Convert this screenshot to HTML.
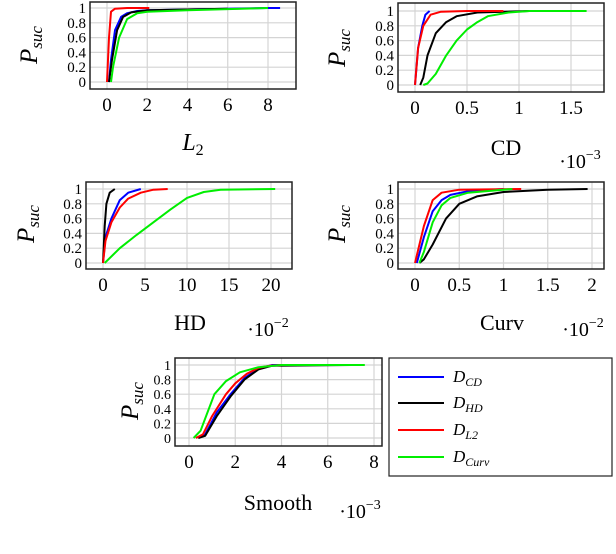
<!DOCTYPE html>
<html><head><meta charset="utf-8"><style>
body{margin:0;background:#fff}
svg{display:block}
text{font-family:"Liberation Serif",serif;fill:#000}
</style></head><body>
<svg id="s" width="616" height="554" viewBox="0 0 616 554"></svg>
<script>
const NS="http://www.w3.org/2000/svg";
const svg=document.getElementById('s');
const colors={cd:'#0000ff',hd:'#000000',l2:'#ff0000',curv:'#00ee00'};
const seriesOrder=['cd','hd','l2','curv'];
const yTicks=[0,0.2,0.4,0.6,0.8,1];
const yTickLabels=['0','0.2','0.4','0.6','0.8','1'];

// Chart L2
const l2Ticks=[0,2,4,6,8];
const l2_cd_x=[0.1,0.2,0.4,0.7,1,1.5,2,4,8,8.6];const l2_cd_y=[0,0.3,0.7,0.88,0.93,0.96,0.97,0.98,1,1];
const l2_hd_x=[0.1,0.25,0.5,0.8,1.2,2,4,6];const l2_hd_y=[0,0.3,0.7,0.88,0.94,0.97,0.98,0.99];
const l2_l2_x=[0,0.1,0.2,0.4,1,2.1];const l2_l2_y=[0,0.6,0.95,0.99,1,1];
const l2_curv_x=[0.2,0.3,0.6,1,1.5,2,4,8];const l2_curv_y=[0,0.2,0.6,0.85,0.93,0.95,0.97,1];
// Chart CD
const cdTicks=[0,0.5,1,1.5];
const cd_cd_x=[0,0.03,0.07,0.1,0.14];const cd_cd_y=[0,0.5,0.8,0.95,1];
const cd_hd_x=[0.05,0.08,0.12,0.2,0.3,0.4,0.6,1.1];const cd_hd_y=[0,0.1,0.4,0.7,0.85,0.93,0.98,1];
const cd_l2_x=[0,0.03,0.08,0.15,0.25,0.5,0.85];const cd_l2_y=[0,0.5,0.8,0.95,0.99,1,1];
const cd_curv_x=[0.08,0.12,0.2,0.3,0.4,0.5,0.6,0.7,0.9,1.1,1.65];const cd_curv_y=[0,0.02,0.15,0.4,0.6,0.75,0.85,0.93,0.98,1,1];
// Chart HD
const hdTicks=[0,5,10,15,20];
const hd_cd_x=[0,0.3,1,2,3,4.5];const hd_cd_y=[0,0.35,0.6,0.85,0.95,1];
const hd_hd_x=[0,0.2,0.4,0.8,1.4];const hd_hd_y=[0,0.5,0.8,0.95,1];
const hd_l2_x=[0,0.3,1,2,3,4.5,6,7.7];const hd_l2_y=[0,0.3,0.55,0.75,0.87,0.95,0.99,1];
const hd_curv_x=[0.2,2,4,6,8,10,12,14,20.5];const hd_curv_y=[0,0.2,0.38,0.55,0.72,0.88,0.96,0.99,1];
// Chart Curv
const cvTicks=[0,0.5,1,1.5,2];
const cv_cd_x=[0.02,0.1,0.2,0.3,0.4,0.6,1];const cv_cd_y=[0,0.35,0.7,0.85,0.92,0.97,1];
const cv_hd_x=[0.05,0.1,0.2,0.35,0.5,0.7,1,1.5,1.95];const cv_hd_y=[0,0.05,0.25,0.6,0.8,0.9,0.96,0.99,1];
const cv_l2_x=[0,0.1,0.2,0.3,0.5,1.2];const cv_l2_y=[0,0.5,0.85,0.95,0.99,1];
const cv_curv_x=[0.05,0.1,0.2,0.3,0.4,0.6,1.1];const cv_curv_y=[0,0.15,0.55,0.78,0.88,0.95,1];
// Chart Smooth
const smTicks=[0,2,4,6,8];
const sm_cd_x=[0.4,0.7,1.2,1.8,2.4,3,3.6,7];const sm_cd_y=[0,0.05,0.35,0.6,0.82,0.95,1,1];
const sm_hd_x=[0.4,0.7,1.2,1.8,2.4,3,3.6,7];const sm_hd_y=[0,0.03,0.3,0.57,0.8,0.94,0.99,1];
const sm_l2_x=[0.3,0.6,1,1.6,2,2.5,3,3.5,4];const sm_l2_y=[0,0.05,0.3,0.6,0.75,0.88,0.96,0.99,1];
const sm_curv_x=[0.2,0.5,0.8,1.1,1.6,2.2,3,4,7.6];const sm_curv_y=[0,0.1,0.35,0.6,0.78,0.9,0.97,1,1];

function el(tag,attrs,parent){const e=document.createElementNS(NS,tag);for(const k in attrs)e.setAttribute(k,attrs[k]);(parent||svg).appendChild(e);return e;}

function chart(name,f,ticks,data){
  const g=el('g',{});
  
  
  const sx=v=>f.x0+(v-ticks[0])*(f.x1-f.x0)/(ticks[ticks.length-1]-ticks[0]);
  const sy=v=>f.y0+(f.y1-f.y0)*v;
  ticks.forEach((t,i)=>{
    const l=el('line',{x1:sx(t),x2:sx(t),y1:f.t,y2:f.b,stroke:'#d4d4d4','stroke-width':1.2},g);
    
    const tx=el('text',{x:sx(t),y:f.b+22,'font-size':19,'text-anchor':'middle'},g);
    tx.textContent=String(t);
    
  });
  yTicks.forEach((t,i)=>{
    const l=el('line',{x1:f.l,x2:f.r,y1:sy(t),y2:sy(t),stroke:'#d4d4d4','stroke-width':1.2},g);
    
    const tx=el('text',{x:f.l-4,y:sy(t)+5,'font-size':f.yfs||15,'text-anchor':'end'},g);
    tx.textContent=yTickLabels[i];
    
  });
  seriesOrder.forEach(k=>{
    const xs=data[k][0],ys=data[k][1];
    const pts=xs.map((x,i)=>sx(x).toFixed(1)+','+sy(ys[i]).toFixed(1)).join(' ');
    const p=el('polyline',{points:pts,fill:'none',stroke:colors[k],'stroke-width':2,'stroke-linejoin':'round'},g);
    
  });
  const fr=el('rect',{x:f.l,y:f.t,width:f.r-f.l,height:f.b-f.t,fill:'none',stroke:'#222','stroke-width':1.5},g);
  
  const yl=el('text',{x:0,y:0,'font-size':25,'font-style':'italic','text-anchor':'middle',transform:`translate(${f.yl[0]},${f.yl[1]}) rotate(-90)`},g);
  yl.innerHTML='P<tspan font-size="17" dy="5">suc</tspan>';
  
}

chart('l2',{l:90,r:296,t:2,b:89,x0:107,x1:268,y0:82,y1:8,yl:[37,45]},l2Ticks,
 {cd:[l2_cd_x,l2_cd_y],hd:[l2_hd_x,l2_hd_y],l2:[l2_l2_x,l2_l2_y],curv:[l2_curv_x,l2_curv_y]});
chart('cd',{l:398,r:604,t:3,b:92,x0:415,x1:571,y0:85,y1:11,yl:[345,48]},cdTicks,
 {cd:[cd_cd_x,cd_cd_y],hd:[cd_hd_x,cd_hd_y],l2:[cd_l2_x,cd_l2_y],curv:[cd_curv_x,cd_curv_y]});
chart('hd',{l:86,r:292,t:182,b:269,x0:103,x1:271,y0:263,y1:189,yl:[34,224]},hdTicks,
 {cd:[hd_cd_x,hd_cd_y],hd:[hd_hd_x,hd_hd_y],l2:[hd_l2_x,hd_l2_y],curv:[hd_curv_x,hd_curv_y]});
chart('curv',{l:398,r:604,t:182,b:269,x0:415,x1:592,y0:263,y1:189,yl:[345,224]},cvTicks,
 {cd:[cv_cd_x,cv_cd_y],hd:[cv_hd_x,cv_hd_y],l2:[cv_l2_x,cv_l2_y],curv:[cv_curv_x,cv_curv_y]});
chart('smooth',{l:175,r:382,t:358,b:446,x0:189,x1:374,y0:438,y1:365,yl:[138,401],yfs:14},smTicks,
 {cd:[sm_cd_x,sm_cd_y],hd:[sm_hd_x,sm_hd_y],l2:[sm_l2_x,sm_l2_y],curv:[sm_curv_x,sm_curv_y]});

function txt(name,x,y,size,html,style){
  const t=el('text',{x:x,y:y,'font-size':size,'text-anchor':'middle'});
  if(style)t.setAttribute('font-style',style);
  t.innerHTML=html;
  
}
txt('x-axis-title-l2',193,150,24,'L<tspan font-size="16" dy="5" font-style="normal">2</tspan>','italic');
txt('x-axis-title-cd',506,155,22,'CD');
txt('exponent-cd',580,168,20,'·10<tspan font-size="14" dy="-9">−3</tspan>');
txt('x-axis-title-hd',190,330,22,'HD');
txt('exponent-hd',268,336,20,'·10<tspan font-size="14" dy="-9">−2</tspan>');
txt('x-axis-title-curv',502,330,22,'Curv');
txt('exponent-curv',583,336,20,'·10<tspan font-size="14" dy="-9">−2</tspan>');
txt('x-axis-title-smooth',278,510,22,'Smooth');
txt('exponent-smooth',360,518,20,'·10<tspan font-size="14" dy="-9">−3</tspan>');

// legend
const lg=el('g',{});

el('rect',{x:389,y:358,width:223,height:118,fill:'#fff',stroke:'#222','stroke-width':1.2},lg);
const legSubs=['CD','HD','L2','Curv'];
const legY=[377,403,430,457];
seriesOrder.forEach((k,i)=>{
  const gi=el('g',{},lg);
  
  el('line',{x1:398,x2:444,y1:legY[i],y2:legY[i],stroke:colors[k],'stroke-width':2},gi);
  const t=el('text',{x:453,y:legY[i]+5,'font-size':17,'font-style':'italic'},gi);
  t.innerHTML='D<tspan font-size="12" dy="4">'+legSubs[i]+'</tspan>';
});
</script>
</body></html>
